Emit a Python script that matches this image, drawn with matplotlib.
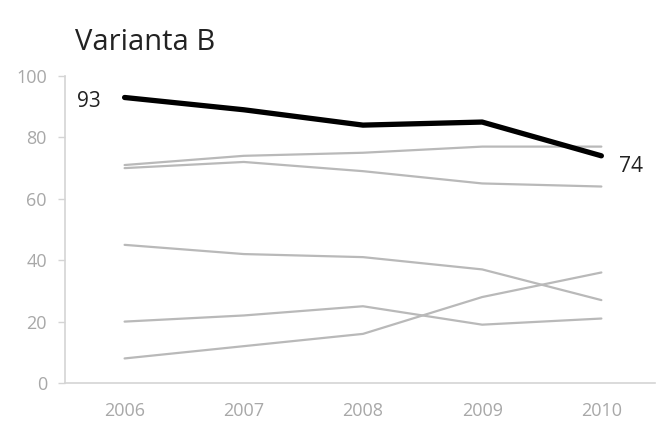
import matplotlib.pyplot as plt

plt.rcParams['font.family'] = ['Open Sans', 'DejaVu Sans']

years = [2006, 2007, 2008, 2009, 2010]
highlight = [93, 89, 84, 85, 74]
others = [
    [71, 74, 75, 77, 77],
    [70, 72, 69, 65, 64],
    [45, 42, 41, 37, 27],
    [20, 22, 25, 19, 21],
    [8, 12, 16, 28, 36],
]
yticks = [0, 20, 40, 60, 80, 100]

gray = '#b9b9b9'
axis_gray = '#d4d4d4'
label_gray = '#a8a8a8'

fig = plt.figure(figsize=(6.58, 4.24), dpi=100)
ax = fig.add_axes([65 / 658, (424 - 383) / 424, (655 - 65) / 658, (383 - 76) / 424])

for s in others:
    ax.plot(years, s, color=gray, lw=1.6, solid_capstyle='round', zorder=2)
ax.plot(years, highlight, color='black', lw=3.8, solid_capstyle='round', zorder=3)

# end labels sit a little below the line ends
ax.text(years[0] - 0.2, highlight[0] - 1.2, str(highlight[0]), ha='right', va='center',
        fontsize=15, color='#222222')
ax.text(years[-1] + 0.15, highlight[-1] - 3.5, str(highlight[-1]), ha='left', va='center',
        fontsize=15, color='#222222')

ax.set_xlim(2005.5, 2010.45)
ax.set_ylim(0, 100)
ax.set_xticks(years)
ax.set_yticks(yticks)
ax.tick_params(axis='x', length=0, pad=14, labelsize=13, labelcolor=label_gray)
ax.tick_params(axis='y', length=5, width=1, color=axis_gray, pad=8,
               labelsize=13, labelcolor=label_gray)

for side in ['top', 'right']:
    ax.spines[side].set_visible(False)
for side in ['left', 'bottom']:
    ax.spines[side].set_color(axis_gray)
    ax.spines[side].set_linewidth(1.2)

fig.text(75 / 658, 1 - 42 / 424, 'Varianta B', fontsize=21, color='#222222',
         ha='left', va='center')

fig.savefig('out.png', dpi=100)
